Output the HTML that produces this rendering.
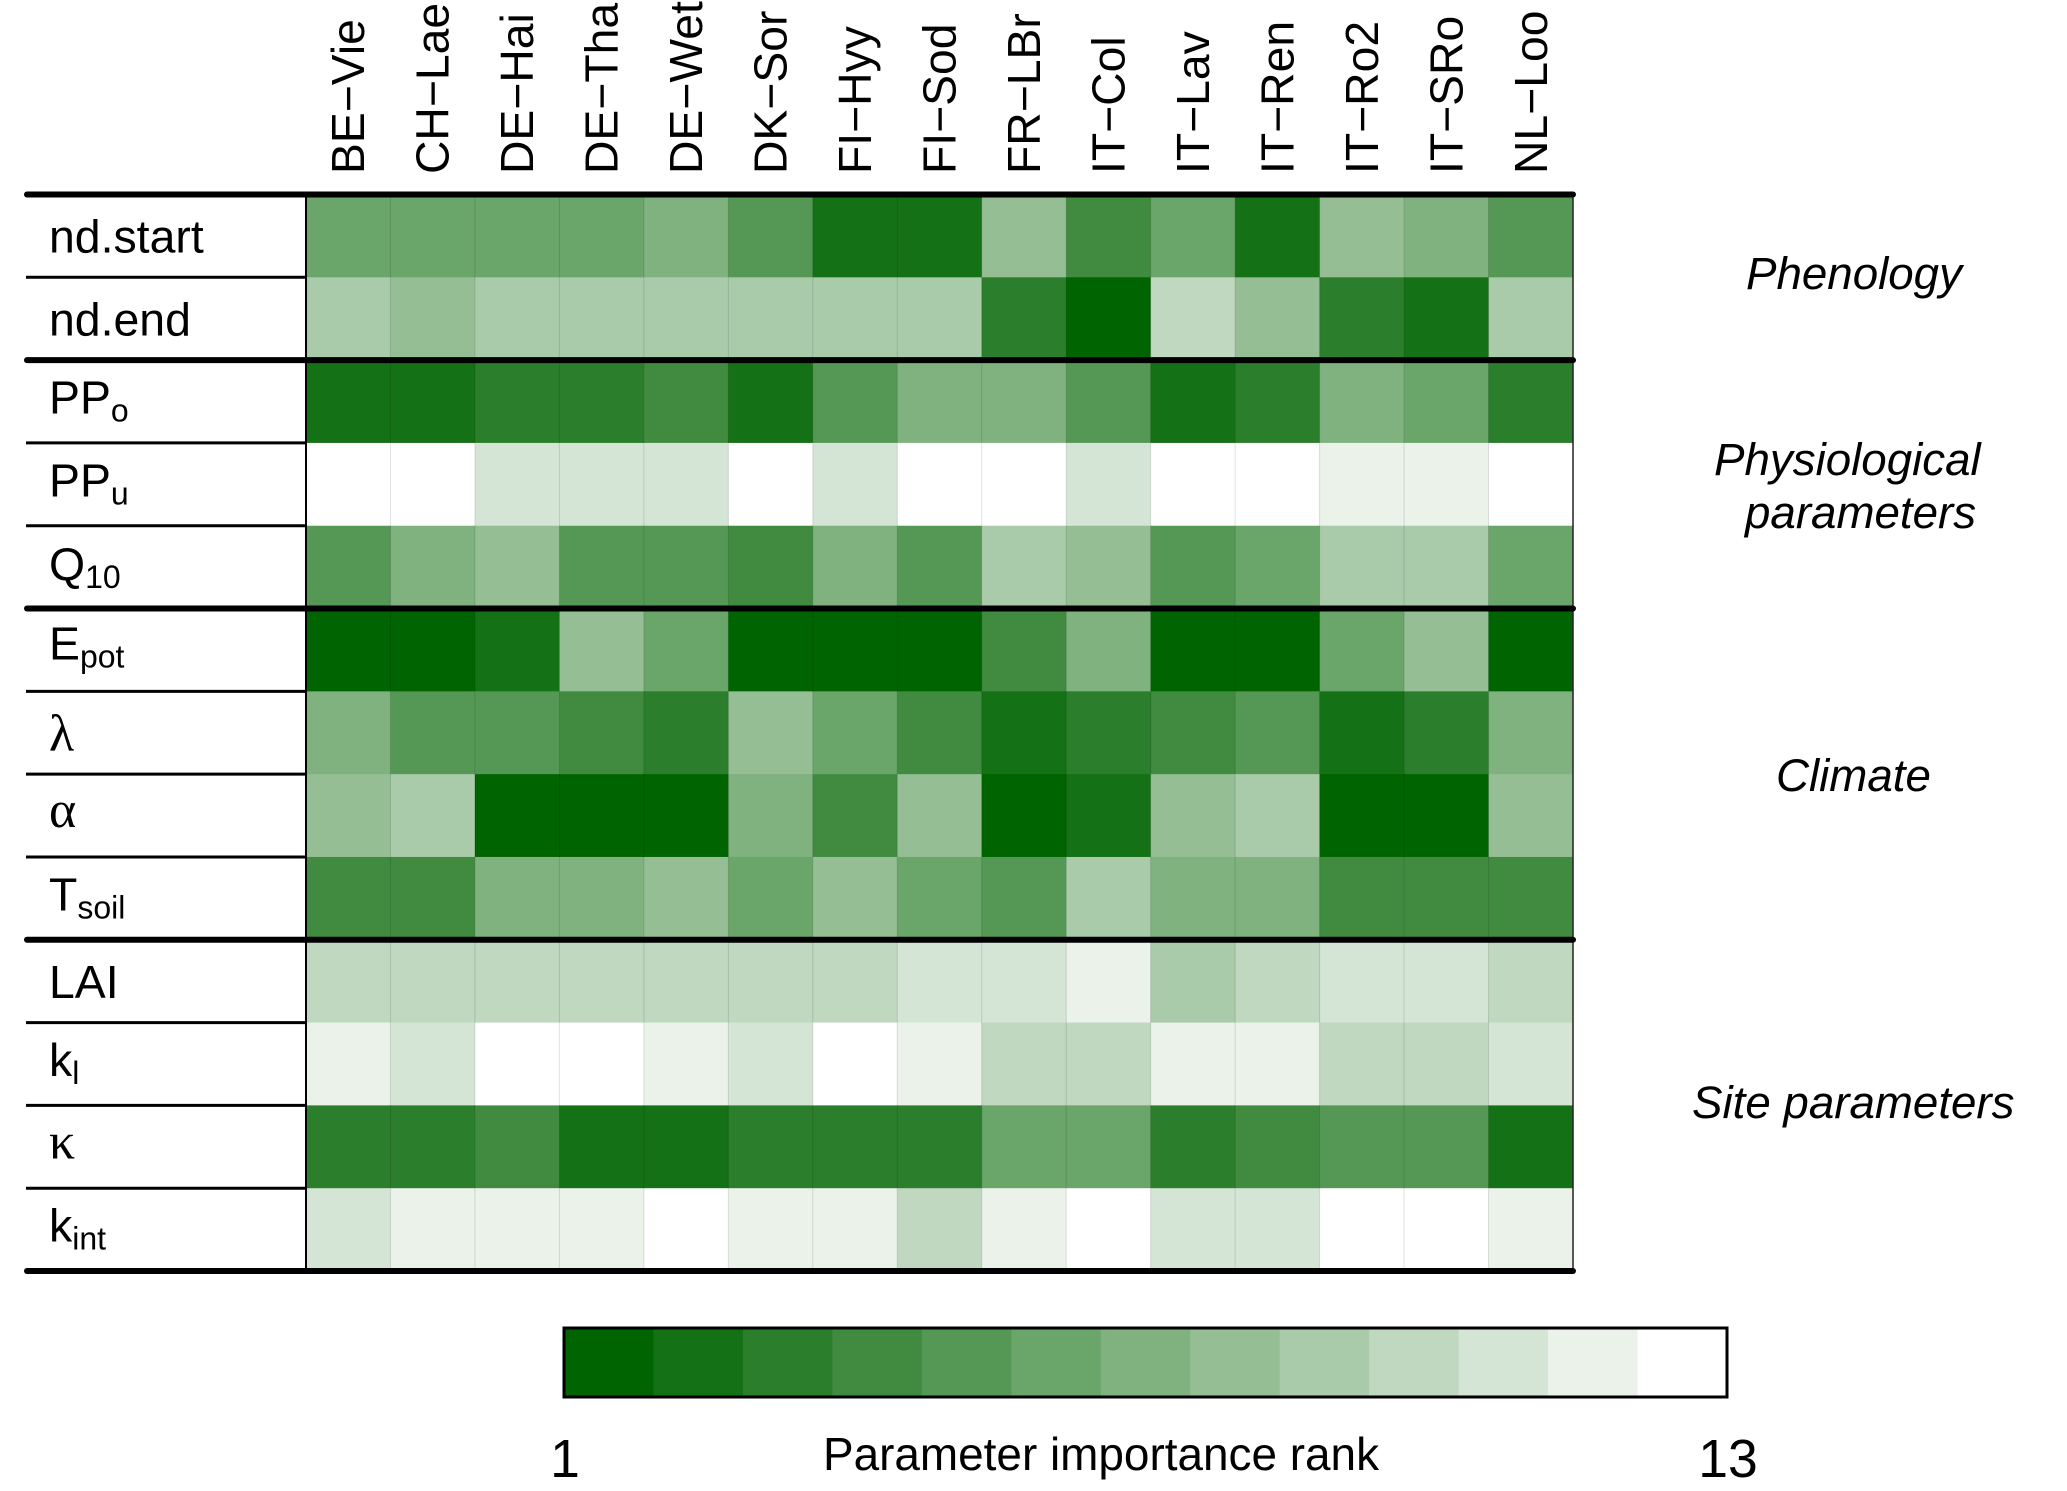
<!DOCTYPE html>
<html lang="en">
<head>
<meta charset="utf-8">
<title>Parameter importance rank heatmap</title>
<style>
  html, body { margin: 0; padding: 0; background: #fff; }
  #chart { display: block; width: 2067px; height: 1491px; }
  text { font-family: "Liberation Sans", Arial, sans-serif; fill: #000; }
</style>
</head>
<body>
<svg id="chart" xmlns="http://www.w3.org/2000/svg" width="2067" height="1491" viewBox="0 0 2067 1491">
  <g id="cells"></g>
  <g id="lines"></g>
  <g id="collabels"></g>
  <g id="rowlabels"></g>
  <g id="legend"></g>
  <g font-style="italic" font-size="45.7">
    <text x="1746" y="289" font-style="italic">Phenology</text>
    <text x="1714" y="475" font-style="italic">Physiological</text>
    <text x="1745" y="528" font-style="italic">parameters</text>
    <text x="1776" y="791" font-style="italic">Climate</text>
    <text x="1692" y="1118" font-style="italic">Site parameters</text>
  </g>
  <text x="823" y="1470" font-size="45.9">Parameter importance rank</text>
  <text x="565" y="1477" font-size="53.5" text-anchor="middle">1</text>
  <text x="1728" y="1477" font-size="53.5" text-anchor="middle">13</text>
</svg>
<script>
const sites = ["BE\u2212Vie","CH\u2212Lae","DE\u2212Hai","DE\u2212Tha","DE\u2212Wet","DK\u2212Sor","FI\u2212Hyy","FI\u2212Sod","FR\u2212LBr","IT\u2212Col","IT\u2212Lav","IT\u2212Ren","IT\u2212Ro2","IT\u2212SRo","NL\u2212Loo"];
const paramBase = ["nd.start","nd.end","PP","PP","Q","E","\u03BB","\u03B1","T","LAI","k","\u03BA","k"];
const paramSub = ["","","o","u","10","pot","","","soil","","l","","int"];
const rankNdStart = [6,6,6,6,7,5,2,2,8,4,6,2,8,7,5];
const rankNdEnd = [9,8,9,9,9,9,9,9,3,1,10,8,3,2,9];
const rankPPo = [2,2,3,3,4,2,5,7,7,5,2,3,7,6,3];
const rankPPu = [13,13,11,11,11,13,11,13,13,11,13,13,12,12,13];
const rankQ10 = [5,7,8,5,5,4,7,5,9,8,5,6,9,9,6];
const rankEpot = [1,1,2,8,6,1,1,1,4,7,1,1,6,8,1];
const rankLambda = [7,5,5,4,3,8,6,4,2,3,4,5,2,3,7];
const rankAlpha = [8,9,1,1,1,7,4,8,1,2,8,9,1,1,8];
const rankTsoil = [4,4,7,7,8,6,8,6,5,9,7,7,4,4,4];
const rankLAI = [10,10,10,10,10,10,10,11,11,12,9,10,11,11,10];
const rankKl = [12,11,13,13,12,11,13,12,10,10,12,12,10,10,11];
const rankKappa = [3,3,4,2,2,3,3,3,6,6,3,4,5,5,2];
const rankKint = [11,12,12,12,13,12,12,10,12,13,11,11,13,13,12];
const ranks = [rankNdStart,rankNdEnd,rankPPo,rankPPu,rankQ10,rankEpot,rankLambda,rankAlpha,rankTsoil,rankLAI,rankKl,rankKappa,rankKint];
const legendRanks = [1,2,3,4,5,6,7,8,9,10,11,12,13];
const groupBreaks = [0,2,5,9,13];

const NS = "http://www.w3.org/2000/svg";
const plotLeft = 306, plotRight = 1573, plotTop = 194.5, plotBottom = 1271;
const xScale = i => plotLeft + (plotRight - plotLeft) * i / sites.length;
const yScale = i => plotTop + (plotBottom - plotTop) * i / paramBase.length;
const colour = r => {
  const t = (r - 1) / 12;
  const v = Math.round(255 * t);
  const g = Math.round(100 + 155 * t);
  return "rgb(" + v + "," + g + "," + v + ")";
};
function make(tag, parent, attrs) {
  const el = document.createElementNS(NS, tag);
  for (const k in attrs) el.setAttribute(k, attrs[k]);
  parent.appendChild(el);
  return el;
}

const cells = document.getElementById("cells");
ranks.forEach((row, r) => {
  row.forEach((value, c) => {
    const rect = make("rect", cells, {
      x: xScale(c), y: yScale(r),
      width: xScale(c + 1) - xScale(c) + 0.4,
      height: yScale(r + 1) - yScale(r) + 0.4,
      fill: colour(value)
    });
    
    
  });
});

const lines = document.getElementById("lines");
for (let c = 1; c < sites.length; c++) {
  const sep = make("line", lines, {
    x1: xScale(c), x2: xScale(c), y1: plotTop, y2: plotBottom,
    stroke: "rgba(0,0,0,0.12)", "stroke-width": 1
  });
  
  
}
[plotLeft, plotRight].forEach(x => {
  const edge = make("line", lines, {
    x1: x, x2: x, y1: plotTop, y2: plotBottom,
    stroke: x === plotLeft ? "#000" : "#222", "stroke-width": x === plotLeft ? 2 : 1.5
  });
  
  
});
for (let r = 0; r <= paramBase.length; r++) {
  const thick = groupBreaks.includes(r);
  const rule = make("line", lines, {
    x1: thick ? 27 : 26, x2: thick ? plotRight : plotLeft, y1: yScale(r), y2: yScale(r),
    stroke: "#000", "stroke-width": thick ? 6 : 3,
    "stroke-linecap": thick ? "round" : "butt"
  });
  
  
}

const colG = document.getElementById("collabels");
sites.forEach((name, c) => {
  const x = (xScale(c) + xScale(c + 1)) / 2 + 16;
  const t = make("text", colG, { x: x, y: 174, "font-size": 46.3, transform: "rotate(-90 " + x + " 174)" });
  
  
  t.textContent = name;
});

function labelOffset(r) {
  const base = paramBase[r], sub = paramSub[r];
  if (base === "\u03BB") return 59;
  if (base === "\u03B1") return 53;
  if (base === "\u03BA") return 53;
  if (base === "E") return 51;
  if (base === "Q") return 54.5;
  if (sub) return 53.5;
  return 58;
}

const rowG = document.getElementById("rowlabels");
paramBase.forEach((name, r) => {
  const greek = /[\u03BB\u03B1\u03BA]/.test(name);
  const y = yScale(r) + labelOffset(r);
  const t = make("text", rowG, { x: 49, y: y, "font-size": greek ? 52 : 46.4 });
  
  
  if (greek) t.style.fontFamily = '"Liberation Serif", "DejaVu Serif", serif';
  const base = make("tspan", t, {});
  base.textContent = name;
  if (paramSub[r]) {
    const sub = make("tspan", t, { dy: 8, "font-size": 32 });
    sub.textContent = paramSub[r];
  }
});

const legG = document.getElementById("legend");
const legLeft = 564, legRight = 1727, legTop = 1328, legBottom = 1397;
const legX = i => legLeft + (legRight - legLeft) * i / legendRanks.length;
legendRanks.forEach((value, i) => {
  const box = make("rect", legG, {
    x: legX(i), y: legTop, width: legX(i + 1) - legX(i) + 0.4, height: legBottom - legTop, fill: colour(value)
  });
  
  
});
const frame = make("rect", legG, {
  x: legLeft, y: legTop, width: legRight - legLeft, height: legBottom - legTop,
  fill: "none", stroke: "#000", "stroke-width": 3
});


</script>
</body>
</html>
